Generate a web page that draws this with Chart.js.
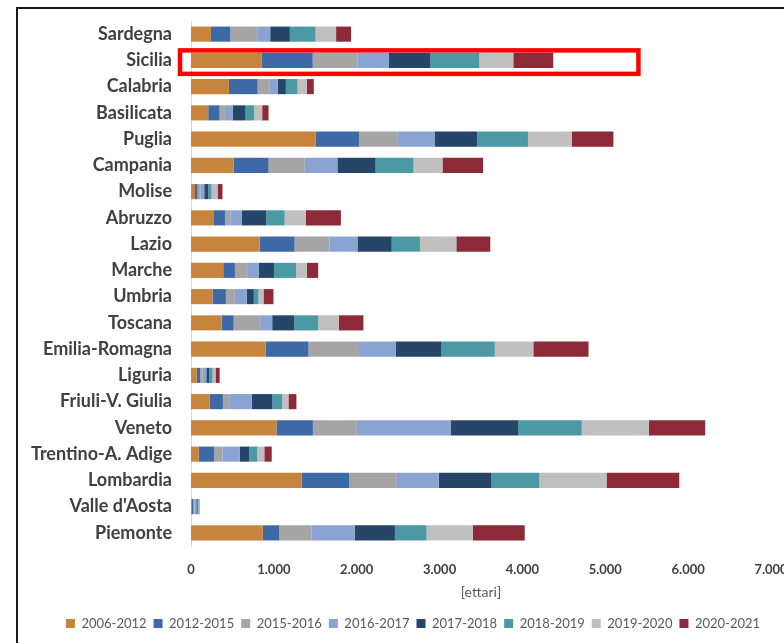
<!DOCTYPE html>
<html lang="it">
<head>
<meta charset="utf-8">
<title>Superfici per regione</title>
<script src="https://cdn.jsdelivr.net/npm/chart.js@4.4.1/dist/chart.umd.min.js"></script>
<style>
    html, body {
        margin: 0;
        padding: 0;
        background: #ffffff;
        overflow: hidden;
    }
    #frame {
        position: absolute;
        left: 16px;
        top: 7px;
        width: 900px;
        height: 700px;
        border-left: 2px solid #1a1a1a;
        border-top: 2px solid #1a1a1a;
    }
    #chart {
        position: absolute;
        left: 0;
        top: 0;
    }
</style>
</head>
<body>
<div id="frame">
    <canvas id="chart" width="790" height="634"></canvas>
</div>
<script>
// Regions, top to bottom as in the chart
const regions = ['Sardegna', 'Sicilia', 'Calabria', 'Basilicata', 'Puglia', 'Campania', 'Molise',
    'Abruzzo', 'Lazio', 'Marche', 'Umbria', 'Toscana', 'Emilia-Romagna', 'Liguria',
    'Friuli-V. Giulia', 'Veneto', 'Trentino-A. Adige', 'Lombardia', "Valle d'Aosta", 'Piemonte'];

const periods = ['2006-2012', '2012-2015', '2015-2016', '2016-2017', '2017-2018', '2018-2019', '2019-2020', '2020-2021'];

// Hectares per period
const s2006_2012 = [241, 855, 458, 208, 1502, 514, 48, 269, 828, 389, 261, 370, 900, 70, 225, 1032, 92, 1336, 5, 867];
const s2012_2015 = [233, 614, 346, 137, 525, 422, 32, 141, 422, 141, 160, 145, 518, 40, 160, 439, 189, 573, 25, 196];
const s2015_2016 = [325, 538, 140, 64, 470, 437, 32, 64, 422, 157, 108, 320, 610, 30, 76, 531, 98, 575, 10, 390];
const s2016_2017 = [157, 381, 101, 93, 442, 394, 48, 141, 337, 133, 145, 145, 442, 45, 273, 1131, 211, 506, 25, 522];
const s2017_2018 = [237, 502, 100, 157, 514, 461, 48, 293, 413, 181, 84, 265, 554, 36, 249, 814, 110, 637, 15, 486];
const s2018_2019 = [310, 590, 141, 104, 614, 458, 40, 222, 341, 269, 57, 289, 642, 40, 116, 769, 101, 578, 10, 382];
const s2019_2020 = [248, 410, 112, 96, 530, 349, 72, 257, 439, 129, 60, 249, 466, 35, 77, 810, 84, 810, 10, 558];
const s2020_2021 = [181, 482, 84, 77, 501, 490, 60, 422, 410, 136, 120, 298, 666, 50, 96, 680, 89, 878, 5, 627];

const xTicks = [0, 1000, 2000, 3000, 4000, 5000, 6000, 7000];
const highlighted = 'Sicilia';

const seriesValues = [s2006_2012, s2012_2015, s2015_2016, s2016_2017, s2017_2018, s2018_2019, s2019_2020, s2020_2021];
const seriesColors = ['#c8843c', '#3d69a6', '#a5a5a5', '#89a3d3', '#264568', '#4a99a5', '#bfbfbf', '#8e2a37'];

// Italian thousands separator
function formatIt(v) {
    return String(v).replace(/\B(?=(\d{3})+(?!\d))/g, '.');
}

// Red box drawn around the highlighted row
const highlightBox = {
    id: 'highlightBox',
    afterDraw(chart) {
        const ctx = chart.ctx;
        const yScale = chart.scales.y;
        const xScale = chart.scales.x;
        const cy = yScale.getPixelForValue(regions.indexOf(highlighted));
        const left = chart.chartArea.left - 11;
        const right = xScale.getPixelForValue(5400);
        ctx.save();
        ctx.strokeStyle = '#ff0000';
        ctx.lineWidth = 4.5;
        ctx.strokeRect(left, cy - 10, right - left, 23.5);
        ctx.restore();
    }
};

// Nudge the legend box to the right so it centres like the original
const legendShift = {
    id: 'legendShift',
    afterLayout(chart) {
        if (chart.legend) {
            chart.legend.left += 37;
        }
    }
};

document.addEventListener('DOMContentLoaded', function() {
    const ctx = document.getElementById('chart').getContext('2d');

    const datasets = periods.map((p, i) => ({
        label: p,
        data: seriesValues[i],
        backgroundColor: seriesColors[i],
        borderWidth: 0,
        barPercentage: 0.9,
        categoryPercentage: 0.64
    }));

    new Chart(ctx, {
        type: 'bar',
        data: { labels: regions, datasets: datasets },
        plugins: [highlightBox, legendShift],
        options: {
            indexAxis: 'y',
            responsive: false,
            animation: false,
            layout: {
                padding: { left: 0, right: 37, top: 12, bottom: 3 }
            },
            scales: {
                x: {
                    stacked: true,
                    min: 0,
                    max: 7000,
                    afterBuildTicks: function(scale) {
                        scale.ticks = xTicks.map(v => ({ value: v }));
                    },
                    afterFit: function(scale) {
                        scale.height = 64;
                    },
                    grid: { display: false, drawTicks: false },
                    border: { display: false },
                    ticks: {
                        padding: 16,
                        color: '#404040',
                        font: { family: 'Lato', size: 13, weight: 'bold' },
                        callback: function(value) { return formatIt(value); }
                    },
                    title: {
                        display: true,
                        text: '[ettari]',
                        color: '#595959',
                        font: { family: 'Lato', size: 14 },
                        padding: { top: 0, bottom: 9 }
                    }
                },
                y: {
                    stacked: true,
                    afterFit: function(scale) {
                        scale.width = 173;
                        scale.paddingTop = 0;
                        scale.paddingBottom = 0;
                    },
                    grid: { display: false, drawTicks: false },
                    border: { display: true, color: '#d9d9d9', width: 1 },
                    ticks: {
                        padding: 19,
                        color: '#404040',
                        font: { family: 'Lato', size: 18, weight: 'bold' }
                    }
                }
            },
            plugins: {
                legend: {
                    position: 'bottom',
                    labels: {
                        boxWidth: 9,
                        boxHeight: 9,
                        padding: 7,
                        color: '#595959',
                        font: { family: 'Lato', size: 13 }
                    }
                },
                tooltip: { enabled: false }
            }
        }
    });
});
</script>
</body>
</html>
